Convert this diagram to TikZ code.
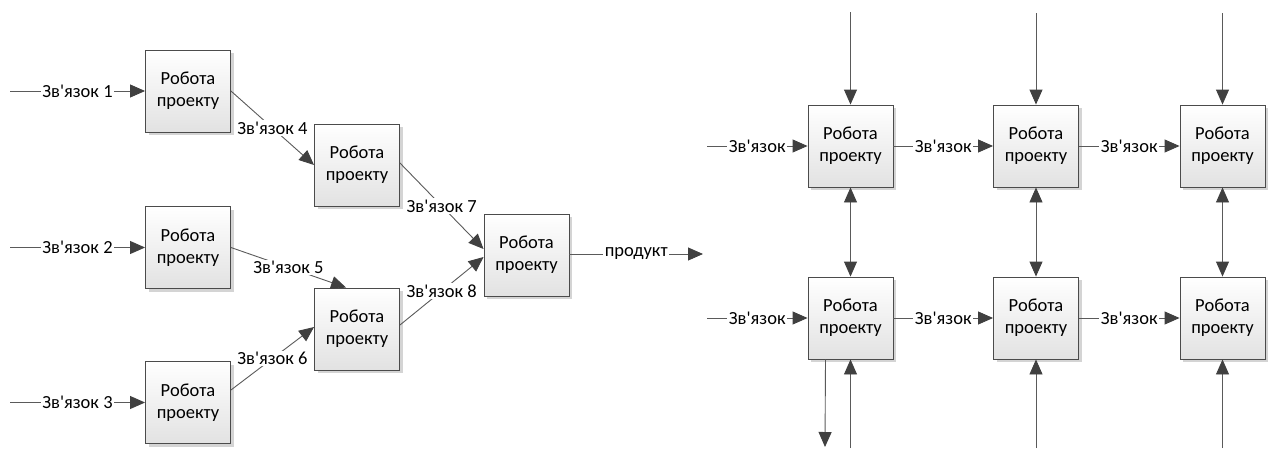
\documentclass[tikz,border=0pt]{standalone}
\usepackage{fontspec}
\setmainfont{Carlito}[Ligatures=TeXOff]
\usetikzlibrary{arrows.meta,shadows,calc}
\definecolor{boxline}{RGB}{75,75,75}
\definecolor{linec}{RGB}{90,90,90}
\definecolor{headc}{RGB}{64,64,64}
\definecolor{boxbot}{RGB}{226,226,226}
\definecolor{shadowc}{RGB}{212,212,212}
\begin{document}
\begin{tikzpicture}[x=1pt,y=-1pt,
  box/.style={draw=boxline, line width=0.9pt, minimum width=85pt, minimum height=82pt,
    top color=white, bottom color=boxbot,
    drop shadow={shadow xshift=3pt, shadow yshift=-3pt, fill=shadowc, opacity=1},
    align=center, font=\fontsize{18.5}{22}\selectfont, inner sep=0pt},
  tip/.tip={Triangle[length=15pt,width=13pt,fill=headc,color=headc]},
  conn/.style={draw=linec, line width=0.9pt, -tip},
  dconn/.style={draw=linec, line width=0.9pt, tip-tip},
  lbl/.style={fill=white, inner sep=1.5pt, font=\fontsize{18.5}{22}\selectfont, text=black}
]
\useasboundingbox (0,0) rectangle (1269,448);

% left network
\node[box] (b1) at (188,91) {Робота\\проекту};
\node[box] (b2) at (188,247.5) {Робота\\проекту};
\node[box] (b3) at (188,402.5) {Робота\\проекту};
\node[box] (b4) at (357,165) {Робота\\проекту};
\node[box] (b5) at (357,329) {Робота\\проекту};
\node[box] (b6) at (526.5,255) {Робота\\проекту};

\coordinate (i1) at (10,91);
\coordinate (i2) at (10,247.5);
\coordinate (i3) at (10,402.5);
\coordinate (out) at (703,254);

\draw[conn] (i1) -- node[lbl]{Зв'язок 1} (b1);
\draw[conn] (i2) -- node[lbl]{Зв'язок 2} (b2);
\draw[conn] (i3) -- node[lbl]{Зв'язок 3} (b3);
\draw[conn] (b1.east) -- node[lbl]{Зв'язок 4} (b4.west);
\draw[conn] (b2.east) -- node[lbl]{Зв'язок 5} ($(b5.north west)+(32,0)$);
\draw[conn] ($(b3.east)+(0,-12.5)$) -- node[lbl]{Зв'язок 6} ($(b5.west)+(0,-2)$);
\draw[conn] ($(b4.east)+(0,-2)$) -- node[lbl]{Зв'язок 7} ($(b6.west)+(0,-6)$);
\draw[conn] ($(b5.east)+(0,-4)$) -- node[lbl]{Зв'язок 8} ($(b6.west)+(0,2)$);
\draw[conn] ($(b6.east)+(0,-1)$) -- node[lbl]{продукт} (out);

% right grid
\node[box] (g11) at (850.5,146) {Робота\\проекту};
\node[box] (g12) at (1036,146) {Робота\\проекту};
\node[box] (g13) at (1222.5,146) {Робота\\проекту};
\node[box] (g21) at (850.5,318) {Робота\\проекту};
\node[box] (g22) at (1036,318) {Робота\\проекту};
\node[box] (g23) at (1222.5,318) {Робота\\проекту};

\coordinate (gi1) at (707,146);
\coordinate (gi2) at (707,318);
\draw[conn] (gi1) -- node[lbl]{Зв'язок} (g11);
\draw[conn] (g11) -- node[lbl]{Зв'язок} (g12);
\draw[conn] (g12) -- node[lbl]{Зв'язок} (g13);
\draw[conn] (gi2) -- node[lbl]{Зв'язок} (g21);
\draw[conn] (g21) -- node[lbl]{Зв'язок} (g22);
\draw[conn] (g22) -- node[lbl]{Зв'язок} (g23);

\coordinate (t1) at (850.5,12);
\coordinate (t2) at (1036,13);
\coordinate (t3) at (1222.5,13);
\draw[conn] (t1) -- (g11);
\draw[conn] (t2) -- (g12);
\draw[conn] (t3) -- (g13);

\draw[dconn] (g11) -- (g21);
\draw[dconn] (g12) -- (g22);
\draw[dconn] (g13) -- (g23);

\coordinate (d1) at (825,447);
\coordinate (u1) at (850.5,448);
\coordinate (u2) at (1036,448);
\coordinate (u3) at (1222.5,448);
\draw[conn] ($(g21.south)+(-25,0)$) -- (d1);
\draw[conn] (u1) -- (g21);
\draw[conn] (u2) -- (g22);
\draw[conn] (u3) -- (g23);
\end{tikzpicture}
\end{document}
